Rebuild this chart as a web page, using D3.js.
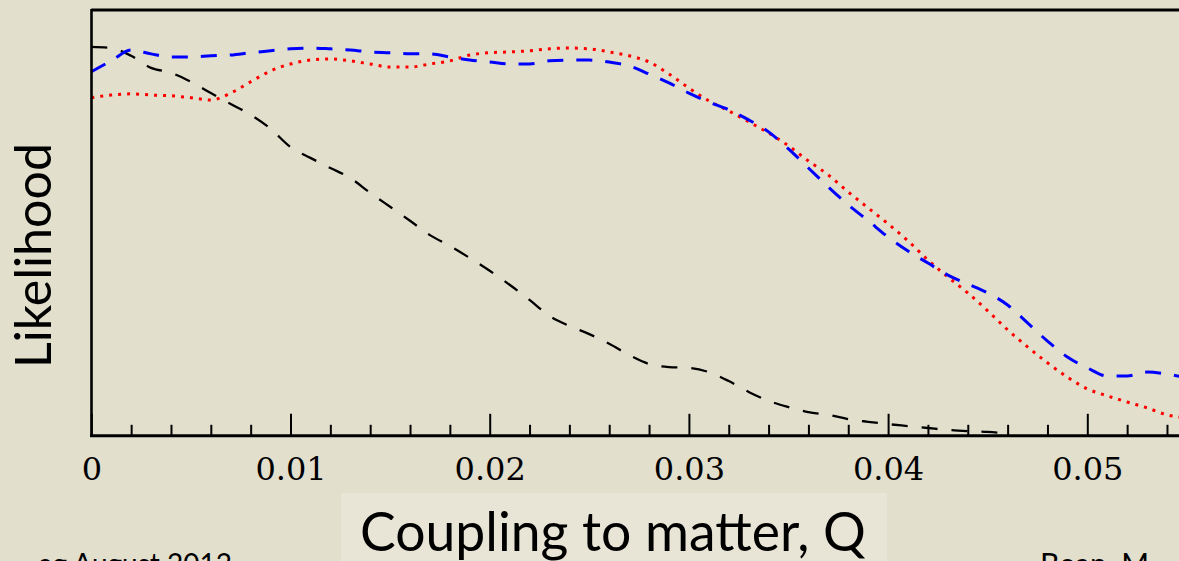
<!DOCTYPE html>
<html>
<head>
<meta charset="utf-8">
<script src="https://cdn.jsdelivr.net/npm/d3@7"></script>
<style>
  html, body { margin: 0; padding: 0; background: #e2dfcd; overflow: hidden; }
  svg { display: block; }
</style>
</head>
<body>
<svg id="chart" width="1179" height="561"></svg>
<script>
// Coupling to matter Q (sample grid shared by all three likelihood curves)
const couplingQ = [
  0.000, 0.001, 0.002, 0.003, 0.004, 0.005, 0.006, 0.007, 0.008, 0.009,
  0.010, 0.011, 0.012, 0.013, 0.014, 0.015, 0.016, 0.017, 0.018, 0.019,
  0.020, 0.021, 0.022, 0.023, 0.024, 0.025, 0.026, 0.027, 0.028, 0.029,
  0.030, 0.031, 0.032, 0.033, 0.034, 0.035, 0.036, 0.037, 0.038, 0.039,
  0.040, 0.041, 0.042, 0.043, 0.044, 0.045, 0.046, 0.047, 0.048, 0.049,
  0.050, 0.051, 0.052, 0.053, 0.054, 0.055
];

// Black dashed curve (stops near Q = 0.046)
const likelihoodBlack = [
  1.000, 0.997, 0.977, 0.946, 0.933, 0.910, 0.881, 0.853, 0.825, 0.789,
  0.742, 0.714, 0.688, 0.662, 0.624, 0.588, 0.552, 0.515, 0.487, 0.456,
  0.423, 0.387, 0.348, 0.307, 0.281, 0.260, 0.235, 0.206, 0.183, 0.175,
  0.173, 0.162, 0.139, 0.111, 0.088, 0.072, 0.059, 0.052, 0.041, 0.034,
  0.028, 0.023, 0.018, 0.013, 0.010, 0.008, 0.003
];

// Blue dashed curve
const likelihoodBlue = [
  0.936, 0.964, 0.992, 0.982, 0.974, 0.974, 0.977, 0.979, 0.985, 0.990,
  0.995, 0.997, 0.995, 0.992, 0.987, 0.985, 0.982, 0.982, 0.974, 0.966,
  0.961, 0.956, 0.956, 0.964, 0.966, 0.966, 0.961, 0.951, 0.930, 0.907,
  0.881, 0.858, 0.838, 0.812, 0.781, 0.737, 0.688, 0.639, 0.593, 0.552,
  0.510, 0.474, 0.443, 0.412, 0.389, 0.366, 0.335, 0.289, 0.242, 0.201,
  0.173, 0.152, 0.152, 0.162, 0.157, 0.147
];

// Red dotted curve
const likelihoodRed = [
  0.869, 0.876, 0.879, 0.876, 0.874, 0.869, 0.863, 0.881, 0.910, 0.938,
  0.956, 0.966, 0.969, 0.964, 0.956, 0.948, 0.948, 0.956, 0.964, 0.979,
  0.985, 0.987, 0.990, 0.995, 0.997, 0.995, 0.987, 0.977, 0.961, 0.930,
  0.894, 0.861, 0.835, 0.807, 0.778, 0.745, 0.706, 0.670, 0.626, 0.585,
  0.544, 0.500, 0.451, 0.407, 0.366, 0.320, 0.271, 0.227, 0.186, 0.149,
  0.119, 0.101, 0.085, 0.070, 0.052, 0.044
];

// Axis ticks and texts
const majorTicks = [0, 0.01, 0.02, 0.03, 0.04, 0.05];
const minorTicks = [0.002, 0.004, 0.006, 0.008, 0.012, 0.014, 0.016, 0.018,
                    0.022, 0.024, 0.026, 0.028, 0.032, 0.034, 0.036, 0.038,
                    0.042, 0.044, 0.046, 0.048, 0.052, 0.054];
const xTitle = "Coupling to matter, Q";
const yTitle = "Likelihood";
const footLeft = "ag August 2012";
const footRight = "Bean, M";

const W = 1179, H = 561;
const svg = d3.select("#chart");

// Scales: plot frame spans x 91.3 → beyond the right edge, y 435 (zero) → 10 (top frame)
const x = d3.scaleLinear().domain([0, 0.06]).range([91.3, 91.3 + 0.06 * 19920]);
const y = d3.scaleLinear().domain([0, 1.095]).range([435, 10]);

svg.append("rect").attr("width", W).attr("height", H).attr("fill", "#e2dfcd");

// Axis title panel
svg.append("rect")
  .attr("x", 341).attr("y", 493).attr("width", 546).attr("height", 80)
  .attr("fill", "#e8e5d6");

// Curves
const line = d3.line()
  .x(d => x(d[0]))
  .y(d => y(d[1]))
  .curve(d3.curveMonotoneX);

const series = [
  { values: likelihoodRed,   color: "#ff0000", width: 3,   dash: "3,6"   },
  { values: likelihoodBlack, color: "#000000", width: 2.3, dash: "16,14" },
  { values: likelihoodBlue,  color: "#0000ff", width: 3,   dash: "16,13" }
];

svg.append("g").selectAll("path")
  .data(series)
  .join("path")
  .attr("d", s => line(s.values.map((v, i) => [couplingQ[i], v])))
  .attr("fill", "none")
  .attr("stroke", s => s.color)
  .attr("stroke-width", s => s.width)
  .attr("stroke-dasharray", s => s.dash);

// Frame: top and left lines
svg.append("line")
  .attr("x1", 91.3).attr("x2", W).attr("y1", 10).attr("y2", 10)
  .attr("stroke", "#000").attr("stroke-width", 3);
svg.append("line")
  .attr("x1", 91.5).attr("x2", 91.5).attr("y1", 9).attr("y2", 437)
  .attr("stroke", "#000").attr("stroke-width", 2.6);

// Minor ticks
const minorAxis = d3.axisBottom(x).tickValues(minorTicks).tickSize(-11).tickFormat("");
svg.append("g").attr("transform", "translate(0,435.8)").call(minorAxis)
  .call(g => g.select(".domain").remove())
  .call(g => g.selectAll(".tick line").attr("stroke", "#000").attr("stroke-width", 2));

// Major ticks with labels
const majorAxis = d3.axisBottom(x)
  .tickValues(majorTicks)
  .tickSize(-22)
  .tickPadding(21)
  .tickFormat(d => d === 0 ? "0" : d.toFixed(2));
svg.append("g").attr("transform", "translate(0,435.8)").call(majorAxis)
  .call(g => g.select(".domain").remove())
  .call(g => g.selectAll(".tick line").attr("stroke", "#000").attr("stroke-width", 2))
  .call(g => g.selectAll(".tick text")
    .attr("fill", "#000")
    .attr("font-family", "'DejaVu Serif', 'Liberation Serif', serif")
    .attr("font-size", 32));

// Bottom axis line
svg.append("line")
  .attr("x1", 90).attr("x2", W).attr("y1", 435.8).attr("y2", 435.8)
  .attr("stroke", "#000").attr("stroke-width", 3);

const sans = "Lato, 'Noto Sans', 'DejaVu Sans', sans-serif";

// Fit a text element to a given width by scaling its font size
function fitText(sel, width) {
  const w = sel.node().getComputedTextLength();
  const fs = parseFloat(sel.attr("font-size"));
  sel.attr("font-size", fs * width / w);
}

// X axis title
const xt = svg.append("text")
  .attr("x", 360).attr("y", 551)
  .attr("font-family", sans).attr("font-size", 48)
  .attr("fill", "#000")
  .text(xTitle);
fitText(xt, 506);

// Y axis title
const yt = svg.append("text")
  .attr("transform", "translate(51,368) rotate(-90)")
  .attr("font-family", sans).attr("font-size", 48)
  .attr("fill", "#000")
  .text(yTitle);
fitText(yt, 225);

// Footer texts, running past the bottom edge of the slide
svg.append("text")
  .attr("x", 232).attr("y", 574).attr("text-anchor", "end")
  .attr("font-family", sans).attr("font-size", 28)
  .attr("fill", "#000")
  .text(footLeft);
svg.append("text")
  .attr("x", 1040).attr("y", 575)
  .attr("font-family", sans).attr("font-size", 30)
  .attr("fill", "#000")
  .text(footRight);
</script>
</body>
</html>
